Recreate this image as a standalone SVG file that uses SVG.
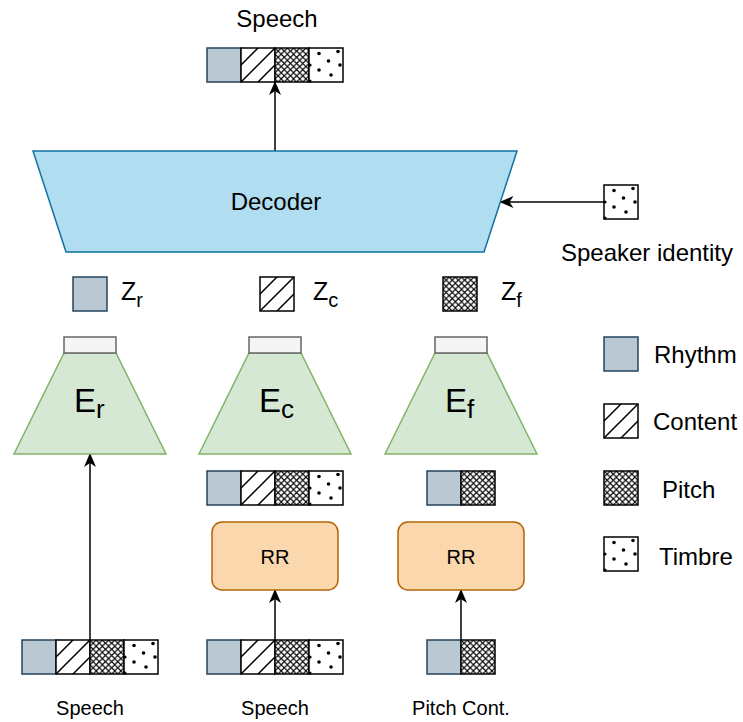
<svg xmlns="http://www.w3.org/2000/svg" xmlns:xlink="http://www.w3.org/1999/xlink" width="743" height="722" viewBox="0 0 743 722">
<style>
text{font-family:"Liberation Sans",Arial,sans-serif;fill:#000}
.t24{font-size:24px}
.t20{font-size:20px}
.rh{fill:#bac8d3;stroke:#23445d;stroke-width:1.5}
.pk{stroke:#000;stroke-width:1.5}
.dec{fill:#b1ddf0;stroke:#10739e;stroke-width:1.5}
.enc{fill:#d5e8d4;stroke:#82b366;stroke-width:1.5}
.cap{fill:#f5f5f5;stroke:#666;stroke-width:1.5}
.rr{fill:#fad7ac;stroke:#b46504;stroke-width:1.5}
.conn{stroke:#000;stroke-width:1.5;fill:none;marker-end:url(#arr)}
</style>
<defs>
<marker id="arr" viewBox="0 0 14 12" refX="13" refY="6" markerWidth="14" markerHeight="12" markerUnits="userSpaceOnUse" orient="auto">
<path d="M0,0 L14,6 L0,12 L4,6 Z" fill="#000"/>
</marker>
<pattern id="hatch" patternUnits="userSpaceOnUse" width="17" height="17">
<rect width="17" height="17" fill="#fff"/>
<path d="M-1,18 L18,-1 M-2,2 L2,-2 M15,19 L19,15" stroke="#000" stroke-width="1.5"/>
</pattern>
<pattern id="cross" patternUnits="userSpaceOnUse" width="6.182" height="6.182">
<rect width="6.182" height="6.182" fill="#fff"/>
<path d="M-1,-1 L7.182,7.182 M7.182,-1 L-1,7.182" stroke="#000" stroke-width="1.1"/>
</pattern>
<g id="c-rhythm"><rect width="34" height="34" class="rh"/></g>
<g id="c-content"><rect width="34" height="34" fill="url(#hatch)" class="pk"/></g>
<g id="c-pitch"><rect width="34" height="34" fill="url(#cross)" class="pk"/></g>
<g id="c-timbre">
<rect width="34" height="34" fill="#fff" class="pk"/>
<g fill="#000">
<circle cx="10" cy="5.5" r="1.8"/><circle cx="29" cy="3.5" r="1.8"/><circle cx="19.5" cy="13" r="1.8"/>
<circle cx="31" cy="17" r="1.8"/><circle cx="10" cy="22" r="1.8"/><circle cx="22" cy="27" r="1.8"/>
<circle cx="1" cy="17" r="1.6"/><circle cx="1" cy="33" r="1.6"/>
</g>
</g>
</defs>
<rect width="743" height="722" fill="#fff"/>

<g id="connectors">
<line class="conn" x1="275" y1="151" x2="275" y2="82"/>
<line class="conn" x1="604" y1="202" x2="500.5" y2="202"/>
<line class="conn" x1="90" y1="640" x2="90" y2="454"/>
<line class="conn" x1="275" y1="640" x2="275" y2="590"/>
<line class="conn" x1="461" y1="640" x2="461" y2="590"/>
</g>

<g id="speech-out">
<text class="t24" x="277" y="27" text-anchor="middle">Speech</text>
<use xlink:href="#c-rhythm" x="207" y="48"/>
<use xlink:href="#c-content" x="241" y="48"/>
<use xlink:href="#c-pitch" x="275" y="48"/>
<use xlink:href="#c-timbre" x="309" y="48"/>
</g>

<g id="decoder">
<polygon class="dec" points="33,151 517,151 484,252 66,252"/>
<text class="t24" x="276" y="210" text-anchor="middle">Decoder</text>
</g>

<g id="speaker-identity">
<use xlink:href="#c-timbre" x="604" y="185"/>
<text class="t24" x="647" y="261" text-anchor="middle">Speaker identity</text>
</g>

<g id="z-r">
<use xlink:href="#c-rhythm" x="73" y="277"/>
<text x="121" y="300" font-size="25">Z<tspan font-size="20" dy="7">r</tspan></text>
</g>
<g id="z-c">
<use xlink:href="#c-content" x="260" y="277"/>
<text x="313" y="300" font-size="25">Z<tspan font-size="20" dy="7">c</tspan></text>
</g>
<g id="z-f">
<use xlink:href="#c-pitch" x="443" y="277"/>
<text x="501" y="300" font-size="25">Z<tspan font-size="20" dy="7">f</tspan></text>
</g>

<g id="encoder-r">
<polygon class="enc" points="14,454 166,454 116,353 64,353"/>
<rect class="cap" x="64" y="337" width="52" height="16"/>
<text x="74" y="412" font-size="33">E<tspan font-size="26" dy="6">r</tspan></text>
</g>
<g id="encoder-c">
<polygon class="enc" points="199,454 351,454 301,353 249,353"/>
<rect class="cap" x="249" y="337" width="52" height="16"/>
<text x="259" y="412" font-size="33">E<tspan font-size="26" dy="6">c</tspan></text>
</g>
<g id="encoder-f">
<polygon class="enc" points="385,454 537,454 487,353 435,353"/>
<rect class="cap" x="435" y="337" width="52" height="16"/>
<text x="445" y="412" font-size="33">E<tspan font-size="26" dy="6">f</tspan></text>
</g>

<g id="bar-mid">
<use xlink:href="#c-rhythm" x="207" y="471"/>
<use xlink:href="#c-content" x="241" y="471"/>
<use xlink:href="#c-pitch" x="275" y="471"/>
<use xlink:href="#c-timbre" x="309" y="471"/>
</g>
<g id="bar-right">
<use xlink:href="#c-rhythm" x="427" y="471"/>
<use xlink:href="#c-pitch" x="461" y="471"/>
</g>

<g id="rr-c">
<rect class="rr" x="212" y="522" width="126" height="68" rx="10"/>
<text class="t20" x="275" y="564" text-anchor="middle">RR</text>
</g>
<g id="rr-f">
<rect class="rr" x="398" y="522" width="126" height="68" rx="10"/>
<text class="t20" x="461" y="564" text-anchor="middle">RR</text>
</g>

<g id="input-speech-1">
<use xlink:href="#c-rhythm" x="22" y="640"/>
<use xlink:href="#c-content" x="56" y="640"/>
<use xlink:href="#c-pitch" x="90" y="640"/>
<use xlink:href="#c-timbre" x="124" y="640"/>
<text class="t20" x="90" y="715" text-anchor="middle">Speech</text>
</g>
<g id="input-speech-2">
<use xlink:href="#c-rhythm" x="207" y="640"/>
<use xlink:href="#c-content" x="241" y="640"/>
<use xlink:href="#c-pitch" x="275" y="640"/>
<use xlink:href="#c-timbre" x="309" y="640"/>
<text class="t20" x="275" y="715" text-anchor="middle">Speech</text>
</g>
<g id="input-pitch">
<use xlink:href="#c-rhythm" x="427" y="640"/>
<use xlink:href="#c-pitch" x="461" y="640"/>
<text class="t20" x="461" y="715" text-anchor="middle">Pitch Cont.</text>
</g>

<g id="legend">
<use xlink:href="#c-rhythm" x="604" y="337"/>
<text class="t24" x="654" y="363">Rhythm</text>
<use xlink:href="#c-content" x="604" y="404"/>
<text class="t24" x="653" y="430">Content</text>
<use xlink:href="#c-pitch" x="604" y="471"/>
<text class="t24" x="662" y="498">Pitch</text>
<use xlink:href="#c-timbre" x="604" y="537"/>
<text class="t24" x="659" y="565">Timbre</text>
</g>
</svg>
